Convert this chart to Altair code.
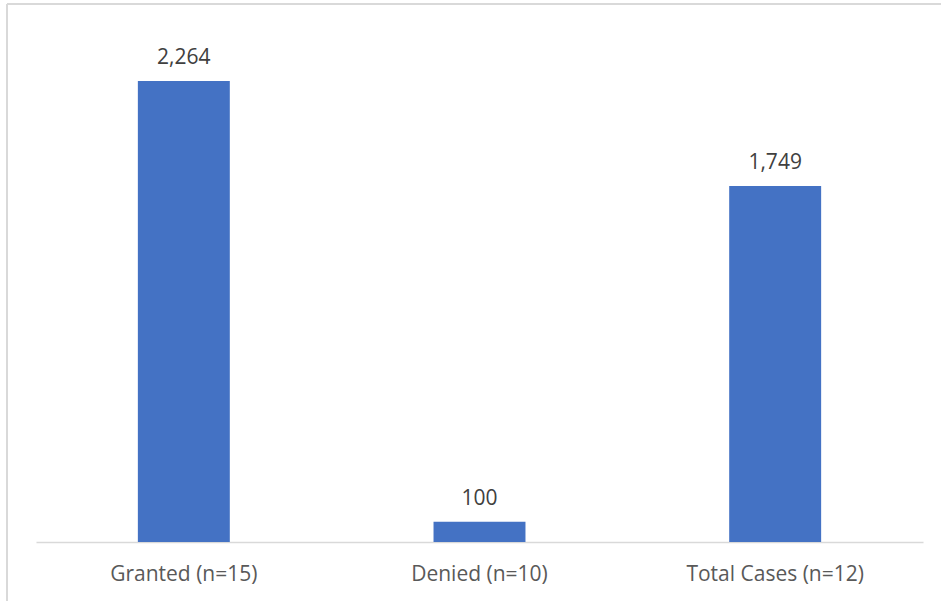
import altair as alt
import pandas as pd

# Case outcomes and their values
categories = ["Granted (n=15)", "Denied (n=10)", "Total Cases (n=12)"]
values = [2264, 100, 1749]

df = pd.DataFrame({"category": categories, "value": values})

FONT = "Open Sans"
BAR = "#4472C4"
GRID = "#D9D9D9"

x_enc = alt.X(
    "category:N",
    sort=categories,
    scale=alt.Scale(paddingInner=0.689, paddingOuter=0.3445),
    axis=alt.Axis(
        title=None,
        labelAngle=0,
        ticks=False,
        tickSize=0,
        domainColor=GRID,
        domainWidth=1.5,
        labelFont=FONT,
        labelFontSize=21,
        labelColor="#595959",
        labelBaseline="alphabetic",
        labelPadding=38,
    ),
)
y_enc = alt.Y(
    "value:Q",
    scale=alt.Scale(domain=[0, 2500], nice=False),
    axis=None,
)

bars = alt.Chart(df).mark_bar(color=BAR).encode(x=x_enc, y=y_enc)

labels = alt.Chart(df).mark_text(
    font=FONT, fontSize=21, color="#404040", baseline="alphabetic", dy=-17
).encode(x=alt.X("category:N", sort=categories), y="value:Q", text=alt.Text("value:Q", format=","))

# Frame lines along the top and left edges of the chart
frame_top = alt.Chart(df).mark_rule(color=GRID, strokeWidth=2).encode(
    x=alt.value(-29), x2=alt.value(941), y=alt.value(-29)
)
frame_left = alt.Chart(df).mark_rule(color=GRID, strokeWidth=2).encode(
    x=alt.value(-29), y=alt.value(-29), y2=alt.value(601)
)

chart = (
    alt.layer(bars, labels, frame_top, frame_left)
    .properties(
        width=887,
        height=509,
        autosize=alt.AutoSizeParams(type="none"),
        padding={"left": 36, "top": 33, "right": 18, "bottom": 59},
        background="white",
    )
    .configure_view(stroke=None)
)

chart.save("out.html", embed_options={"renderer": "svg", "actions": False})
